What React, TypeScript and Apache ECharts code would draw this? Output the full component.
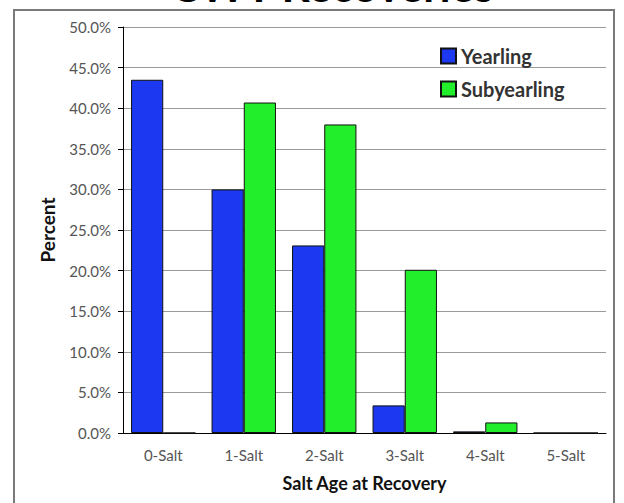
import React, { useEffect, useRef } from "react";
import * as echarts from "echarts";

const categories = ["0-Salt", "1-Salt", "2-Salt", "3-Salt", "4-Salt", "5-Salt"];
const yearling = [43.5, 30.0, 23.1, 3.4, 0.2, 0];
const subyearling = [0, 40.7, 38.0, 20.1, 1.3, 0];
const seriesNames = ["Yearling", "Subyearling"];
const yTicks = { min: 0, max: 50, interval: 5 };

const FONT = "Lato, 'Open Sans', sans-serif";

export default function App() {
  const ref = useRef<HTMLDivElement>(null);
  useEffect(() => {
    if (!ref.current) return;
    const chart = echarts.init(ref.current, null, { renderer: "svg" });
    chart.setOption({
      animation: false,
      backgroundColor: "#ffffff",
      textStyle: { fontFamily: FONT },
      graphic: [
        {
          type: "rect",
          shape: { x: 14, y: 10, width: 600, height: 510 },
          style: { fill: "none", stroke: "#7a7a7a", lineWidth: 2 },
          z: 0,
        },
        {
          type: "text",
          x: 332,
          y: 7,
          style: {
            text: "CWT Recoveries",
            font: `bold 44px ${FONT}`,
            fill: "#000",
            textAlign: "center",
            textVerticalAlign: "bottom",
          },
        },
      ],
      grid: { left: 123, top: 27, right: 18, bottom: 70, containLabel: false },
      legend: {
        orient: "vertical",
        left: 435,
        top: 41,
        itemGap: 13,
        itemWidth: 15,
        itemHeight: 15,
        icon: "rect",
        data: seriesNames,
        textStyle: { fontFamily: FONT, fontSize: 20, fontWeight: "bold", color: "#333" },
      },
      xAxis: {
        type: "category",
        data: categories,
        axisTick: { show: false },
        axisLine: { lineStyle: { color: "#000", width: 1 } },
        axisLabel: { color: "#555", fontSize: 15, margin: 14, fontFamily: FONT },
        name: "Salt Age at Recovery",
        nameLocation: "middle",
        nameGap: 41,
        nameTextStyle: { fontSize: 18, fontWeight: "bold", color: "#111", fontFamily: FONT },
      },
      yAxis: {
        type: "value",
        min: yTicks.min,
        max: yTicks.max,
        interval: yTicks.interval,
        axisLine: { show: true, lineStyle: { color: "#000", width: 1 } },
        axisTick: { show: true, length: 5, lineStyle: { color: "#000" } },
        axisLabel: {
          color: "#555",
          fontSize: 15,
          margin: 12,
          fontFamily: FONT,
          formatter: (v: number) => `${v.toFixed(1)}%`,
        },
        splitLine: { lineStyle: { color: "#9a9a9a", width: 1 } },
        name: "Percent",
        nameLocation: "middle",
        nameGap: 66,
        nameRotate: 90,
        nameTextStyle: { fontSize: 19, fontWeight: "bold", color: "#111", fontFamily: FONT },
      },
      series: [
        {
          name: seriesNames[0],
          type: "bar",
          data: yearling,
          barGap: "0%",
          barCategoryGap: "20%",
          itemStyle: { color: "#1c38f0", borderColor: "#111", borderWidth: 1 },
        },
        {
          name: seriesNames[1],
          type: "bar",
          data: subyearling,
          barGap: "0%",
          barCategoryGap: "20%",
          itemStyle: { color: "#22ee2c", borderColor: "#111", borderWidth: 1 },
        },
      ],
    });
    return () => chart.dispose();
  }, []);
  return (
    <div
      ref={ref}
      style={{ position: "fixed", left: 0, top: 0, width: 624, height: 503, background: "#fff" }}
    />
  );
}
